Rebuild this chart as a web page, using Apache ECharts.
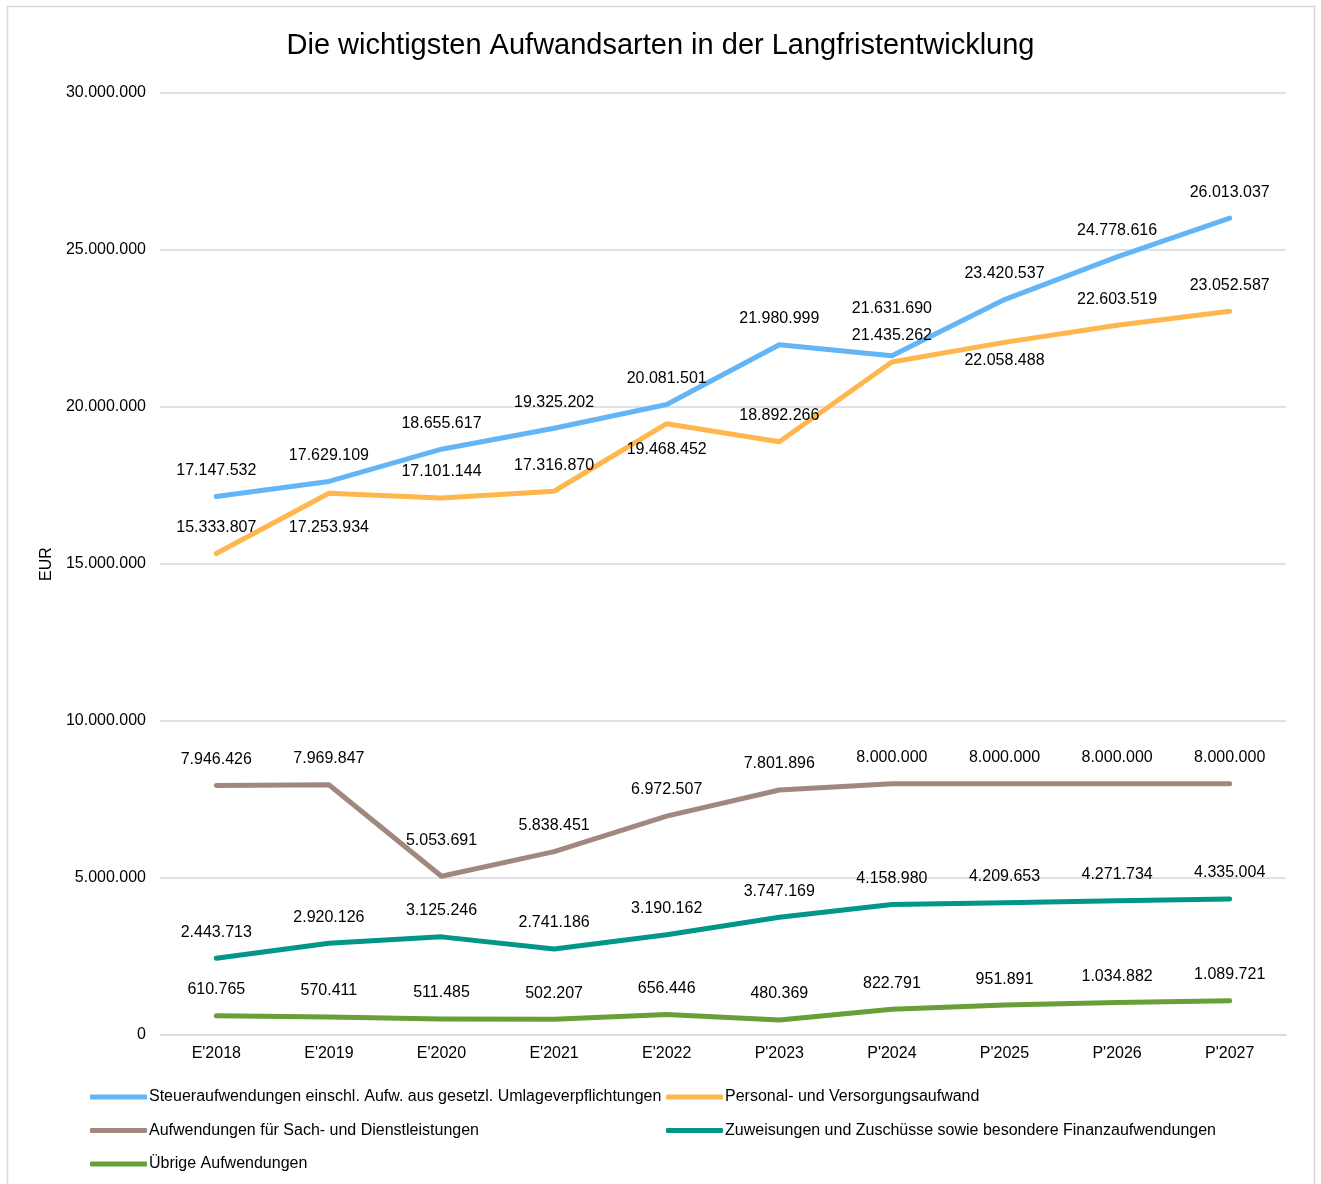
<!DOCTYPE html>
<html>
<head>
<meta charset="utf-8">
<script src="https://cdn.jsdelivr.net/npm/echarts@6/dist/echarts.min.js"></script>
<style>
  html, body { margin: 0; padding: 0; background: #fff; }
  #chart { width: 1321px; height: 1184px; }
</style>
</head>
<body>
<div id="chart"></div>
<script>
  // Daten
  const categories = ["E'2018", "E'2019", "E'2020", "E'2021", "E'2022", "P'2023", "P'2024", "P'2025", "P'2026", "P'2027"]
  const steuer = [17147532, 17629109, 18655617, 19325202, 20081501, 21980999, 21631690, 23420537, 24778616, 26013037]
  const personal = [15333807, 17253934, 17101144, 17316870, 19468452, 18892266, 21435262, 22058488, 22603519, 23052587]
  const sach = [7946426, 7969847, 5053691, 5838451, 6972507, 7801896, 8000000, 8000000, 8000000, 8000000]
  const zuweisungen = [2443713, 2920126, 3125246, 2741186, 3190162, 3747169, 4158980, 4209653, 4271734, 4335004]
  const uebrige = [610765, 570411, 511485, 502207, 656446, 480369, 822791, 951891, 1034882, 1089721]

  const fmt = v => String(v).replace(/\B(?=(\d{3})+(?!\d))/g, '.')
  const font = 'Liberation Sans, Arial, sans-serif'

  // Beschriftungen, die abweichend platziert sind
  const labelTweaks = {
    personal: { 1: { position: 'bottom', distance: 26 }, 4: { position: 'bottom', distance: 18 }, 7: { position: 'bottom', distance: 10 } },
    steuer: { 6: { distance: 39 } },
    sach: { 2: { distance: 28 } }
  }

  function makeSeries(name, key, values, color) {
    const tweaks = labelTweaks[key] || {}
    return {
      name: name,
      type: 'line',
      symbol: 'circle',
      symbolSize: 0,
      data: values.map((v, i) => tweaks[i] ? { value: v, label: tweaks[i] } : v),
      lineStyle: { width: 5, color: color, cap: 'round', join: 'round' },
      itemStyle: { color: color },
      label: {
        show: true,
        position: 'top',
        distance: 18,
        color: '#000',
        fontFamily: font,
        fontSize: 16,
        formatter: p => fmt(p.value)
      }
    }
  }

  const legendText = { color: '#000', fontFamily: font, fontSize: 16, padding: [0, 0, 0, -3] }

  const option = {
    animation: false,
    backgroundColor: '#fff',
    graphic: [{
      type: 'rect',
      shape: { x: 7.5, y: 6.5, width: 1307, height: 1200 },
      style: { fill: 'none', stroke: '#d9d9d9', lineWidth: 1.5 },
      silent: true,
      z: -10
    }],
    title: {
      text: 'Die wichtigsten Aufwandsarten in der Langfristentwicklung',
      left: 'center',
      top: 26,
      textStyle: { color: '#000', fontFamily: font, fontSize: 29, fontWeight: 'normal' }
    },
    legend: [{
      orient: 'vertical',
      left: 90,
      top: 1089,
      padding: 0,
      itemWidth: 57,
      itemHeight: 5,
      itemGap: 17.5,
      icon: 'roundRect',
      textStyle: legendText,
      data: ['Steueraufwendungen einschl. Aufw. aus gesetzl. Umlageverpflichtungen', 'Aufwendungen für Sach- und Dienstleistungen', 'Übrige Aufwendungen']
    }, {
      orient: 'vertical',
      left: 666,
      top: 1089,
      padding: 0,
      itemWidth: 57,
      itemHeight: 5,
      itemGap: 17.5,
      icon: 'roundRect',
      textStyle: legendText,
      data: ['Personal- und Versorgungsaufwand', 'Zuweisungen und Zuschüsse sowie besondere Finanzaufwendungen']
    }],
    grid: { left: 160, right: 35, top: 93, bottom: 149 },
    xAxis: {
      type: 'category',
      data: categories,
      boundaryGap: true,
      axisLine: { lineStyle: { color: '#d9d9d9', width: 1.5 } },
      axisTick: { show: false },
      axisLabel: { color: '#000', fontFamily: font, fontSize: 16, margin: 11 }
    },
    yAxis: {
      type: 'value',
      min: 0,
      max: 30000000,
      interval: 5000000,
      name: 'EUR',
      nameLocation: 'middle',
      nameGap: 97,
      nameRotate: 90,
      nameTextStyle: { color: '#000', fontFamily: font, fontSize: 16 },
      axisLine: { show: false },
      axisTick: { show: false },
      splitLine: { lineStyle: { color: '#d9d9d9', width: 1.5 } },
      axisLabel: { color: '#000', fontFamily: font, fontSize: 16, margin: 14, formatter: v => fmt(v) }
    },
    series: [
      makeSeries('Steueraufwendungen einschl. Aufw. aus gesetzl. Umlageverpflichtungen', 'steuer', steuer, '#64b5f6'),
      makeSeries('Personal- und Versorgungsaufwand', 'personal', personal, '#ffb74d'),
      makeSeries('Aufwendungen für Sach- und Dienstleistungen', 'sach', sach, '#a1887f'),
      makeSeries('Zuweisungen und Zuschüsse sowie besondere Finanzaufwendungen', 'zuweisungen', zuweisungen, '#009688'),
      makeSeries('Übrige Aufwendungen', 'uebrige', uebrige, '#689f38')
    ]
  }

  const chart = echarts.init(document.getElementById('chart'))
  chart.setOption(option)
  window.addEventListener('resize', () => chart.resize())
</script>
</body>
</html>
